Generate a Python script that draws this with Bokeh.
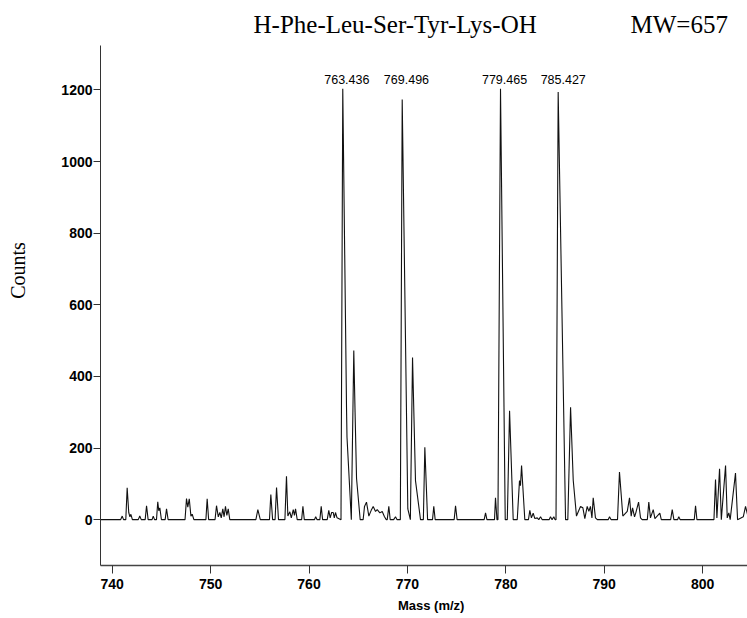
from bokeh.plotting import figure
from bokeh.models import Range1d, FixedTicker, LinearAxis, ColumnDataSource
from bokeh.core.properties import value
from bokeh.embed import file_html
from bokeh.resources import INLINE

# ---------------- data ----------------
mass = [
    738.8, 740.85, 741.02, 741.15, 741.38, 741.52, 741.68, 741.8, 741.9, 742.05,
    742.65, 742.8, 742.95, 743.35, 743.49, 743.65, 744.05, 744.17, 744.3, 744.5,
    744.63, 744.73, 744.84, 745.0, 745.38, 745.52, 745.68, 747.4, 747.55, 747.68,
    747.83, 748.0, 748.13, 748.3, 749.52, 749.65, 749.8, 750.45, 750.6, 750.78,
    750.94, 751.08, 751.24, 751.37, 751.51, 751.65, 751.79, 751.95, 754.6, 754.8,
    755.05, 755.98, 756.12, 756.3, 756.55, 756.7, 756.9, 757.55, 757.71, 757.85,
    758.05, 758.2, 758.4, 758.52, 758.63, 758.8, 759.25, 759.38, 759.52, 760.55,
    760.68, 760.82, 761.1, 761.24, 761.38, 761.85, 762.01, 762.15, 762.3, 762.46,
    762.57, 762.69, 762.85, 763.25, 763.43, 763.81, 763.86, 764.3, 764.55, 764.68,
    764.83, 765.2, 765.5, 765.64, 765.84, 766.08, 766.32, 766.52, 766.76, 766.93,
    767.2, 767.44, 767.67, 767.85, 767.95, 768.11, 768.25, 768.6, 768.79, 768.95,
    769.28, 769.47, 770.04, 770.3, 770.52, 770.82, 771.33, 771.62, 771.77, 772.05,
    772.55, 772.68, 772.82, 774.75, 774.89, 775.05, 777.8, 777.94, 778.08, 778.85,
    778.95, 779.1, 779.2, 779.46, 779.94, 780.15, 780.38, 780.75, 781.16, 781.39,
    781.49, 781.6, 781.93, 782.3, 782.44, 782.6, 782.78, 782.95, 783.19, 783.35,
    783.53, 783.7, 784.4, 784.54, 784.7, 784.88, 785.0, 785.1, 785.32, 786.07,
    786.3, 786.58, 786.85, 787.18, 787.59, 787.83, 788.03, 788.27, 788.44, 788.6,
    788.75, 788.88, 789.11, 789.3, 790.4, 790.54, 790.7, 791.35, 791.55, 791.89,
    792.34, 792.57, 792.74, 792.88, 793.08, 793.21, 793.49, 793.69, 793.85, 794.38,
    794.53, 794.7, 794.98, 795.15, 795.65, 795.8, 796.75, 796.91, 797.08, 797.45,
    797.58, 797.72, 799.15, 799.28, 799.42, 801.15, 801.31, 801.45, 801.72, 801.9,
    802.33, 802.5, 802.66, 802.8, 803.34, 803.55, 804.13, 804.36, 804.6,
]
counts = [
    0, 0, 10, 0, 0, 89, 20, 8, 15, 0,
    0, 10, 0, 0, 39, 0, 0, 10, 0, 0,
    50, 25, 33, 0, 0, 30, 0, 0, 59, 35,
    58, 10, 15, 0, 0, 58, 0, 0, 39, 8,
    20, 5, 30, 8, 37, 12, 30, 0, 0, 28,
    0, 0, 70, 0, 0, 90, 0, 0, 121, 10,
    22, 5, 28, 12, 30, 0, 0, 37, 0, 0,
    8, 0, 0, 37, 0, 0, 26, 5, 20, 20,
    5, 20, 5, 0, 1203, 314, 230, 0, 472, 300,
    115, 0, 0, 37, 49, 10, 26, 37, 23, 28,
    19, 23, 8, 0, 0, 37, 0, 0, 8, 0,
    0, 1173, 30, 0, 453, 109, 0, 0, 202, 0,
    0, 37, 0, 0, 39, 0, 0, 19, 0, 0,
    61, 0, 0, 1203, 0, 0, 304, 0, 0, 109,
    95, 151, 0, 0, 26, 5, 18, 3, 5, 0,
    8, 0, 0, 8, 0, 8, 0, 0, 1194, 0,
    0, 314, 110, 10, 37, 33, 3, 37, 23, 37,
    5, 61, 5, 0, 0, 8, 0, 0, 133, 10,
    23, 61, 10, 33, 8, 19, 49, 5, 0, 0,
    49, 5, 28, 3, 18, 0, 0, 28, 0, 0,
    8, 0, 0, 39, 0, 0, 112, 5, 142, 0,
    151, 5, 19, 0, 130, 0, 8, 37, 10,
]
peak_labels = ["763.436", "769.496", "779.465", "785.427"]
peak_mass = [763.436, 769.496, 779.465, 785.427]
x_ticks = [740, 750, 760, 770, 780, 790, 800]
y_ticks = [0, 200, 400, 600, 800, 1000, 1200]
title_left = "H-Phe-Leu-Ser-Tyr-Lys-OH"
title_right = "MW=657"
x_title = "Mass (m/z)"
y_title = "Counts"

# ---------------- style ----------------
SANS = "Liberation Sans"
SERIF = "Liberation Serif"
LABEL_Y = 1229
GAP = "\u00a0" * 15
YLAB_SHIFT = "\u00a0" * 14
XLAB_SHIFT = "\u00a0" * 4

p = figure(width=747, height=618,
           x_range=Range1d(738.81, 804.56), y_range=Range1d(-128, 1324),
           output_backend="svg", toolbar_location=None,
           min_border_left=100, min_border_right=0,
           min_border_top=45, min_border_bottom=53)
p.outline_line_color = None
p.grid.visible = False
p.background_fill_color = "white"
p.border_fill_color = "white"

p.title.text = title_left + GAP + title_right
p.title.align = "left"
p.title.offset = 153
p.title.text_font = SERIF
p.title.text_font_style = "normal"
p.title.text_font_size = "25px"
p.title.text_color = "black"
p.title.standoff = 15

p.line(mass, counts, line_color="#111111", line_width=1.1)

src = ColumnDataSource(dict(x=peak_mass, y=[LABEL_Y] * len(peak_mass), t=peak_labels))
p.text(x="x", y="y", text="t", source=src, x_offset=4,
       text_align="center", text_baseline="alphabetic",
       text_font=value(SANS), text_font_size="12.5px", text_color="black")

# axes
for ax, ticks in ((p.xaxis, x_ticks), (p.yaxis, y_ticks)):
    ax.ticker = FixedTicker(ticks=ticks)
    ax.minor_tick_line_color = None
    ax.major_tick_in = 0
    ax.major_label_text_font = SANS
    ax.major_label_text_font_style = "bold"
    ax.major_label_text_font_size = "14px"
    ax.major_label_text_color = "black"
    ax.major_tick_line_color = "#333333"

p.yaxis.major_tick_out = 7
p.yaxis.major_label_standoff = 1
p.yaxis.axis_line_color = "#333333"
p.yaxis.axis_line_width = 1

p.xaxis.major_tick_out = 8
p.xaxis.major_label_standoff = 5
p.xaxis.axis_line_color = "#444444"
p.xaxis.axis_line_width = 1.5
p.xaxis.axis_label = XLAB_SHIFT + x_title
p.xaxis.axis_label_text_font = SANS
p.xaxis.axis_label_text_font_style = "bold"
p.xaxis.axis_label_text_font_size = "13px"
p.xaxis.axis_label_text_color = "black"
p.xaxis.axis_label_standoff = 6

# outer bare axis that only carries the y title
ylab = LinearAxis(ticker=FixedTicker(ticks=[]),
                  axis_line_color=None, major_tick_line_color=None,
                  minor_tick_line_color=None, major_tick_out=0, minor_tick_out=0,
                  major_label_text_font_size="0px",
                  axis_label=YLAB_SHIFT + y_title, axis_label_standoff=30,
                  axis_label_text_font=SERIF, axis_label_text_font_style="normal",
                  axis_label_text_font_size="20px", axis_label_text_color="black")
p.add_layout(ylab, "left")

open("out.html", "w").write(file_html(p, INLINE))
